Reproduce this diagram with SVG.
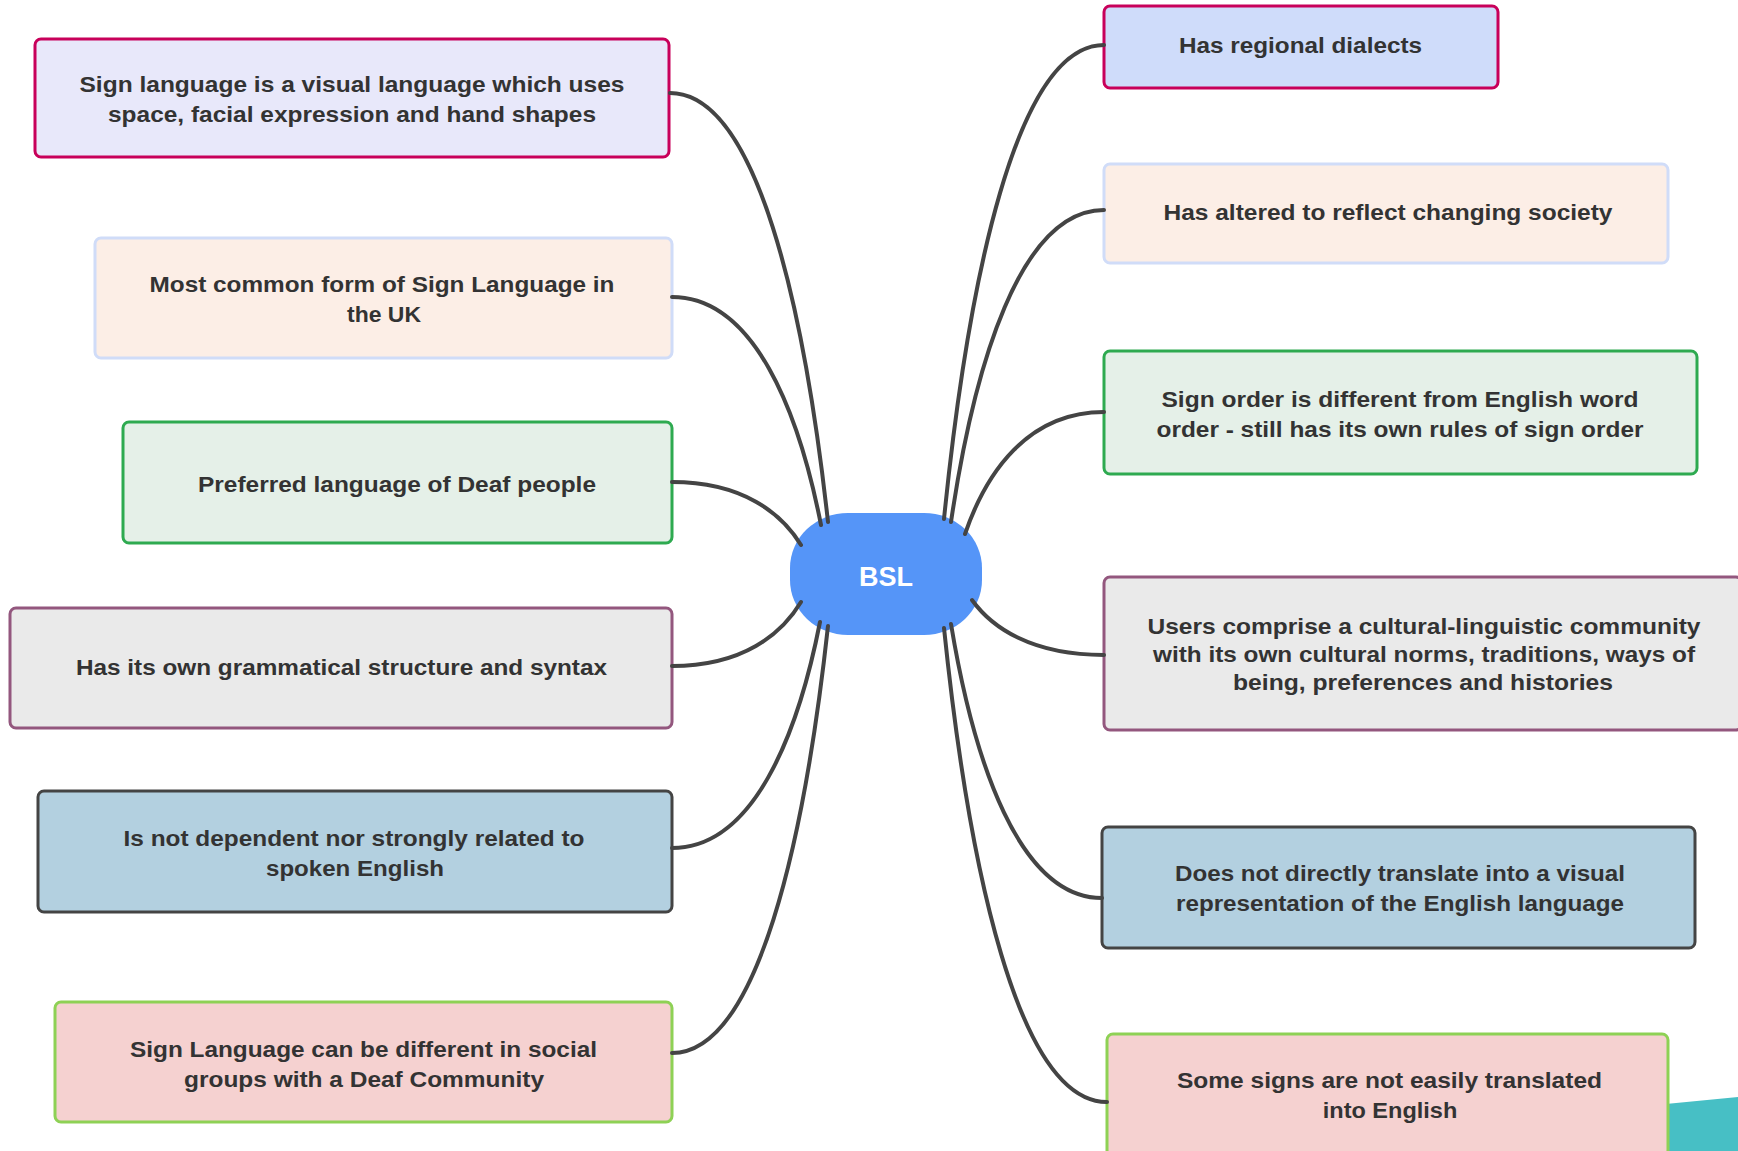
<svg xmlns="http://www.w3.org/2000/svg" width="1738" height="1151" viewBox="0 0 1738 1151">
<style>
.t{font-family:"Liberation Sans",Arial,sans-serif;font-weight:bold;font-size:22px;fill:#333333;text-anchor:middle}
.b{stroke-width:3}
.s1{fill:#E8E8FA;stroke:#C8005A}
.s1b{fill:#CFDCFA;stroke:#C8005A}
.s2{fill:#FCEEE6;stroke:#D0DCF8}
.s3{fill:#E5F0E8;stroke:#2EAA50}
.s4{fill:#EAEAEA;stroke:#93577E}
.s5{fill:#B3D0E0;stroke:#444444}
.s6{fill:#F5D1D0;stroke:#8ED155}
.c{fill:none;stroke:#444444;stroke-width:4;stroke-linecap:round}
</style>
<rect width="1738" height="1151" fill="#FFFFFF"/>
<polygon points="1500,1120 1738,1097 1738,1151 1500,1151" fill="#47BFC5"/>

<g id="node-l1"><rect class="b s1" x="35" y="39" width="634" height="118" rx="6"/>
<text class="t" x="352" y="92" textLength="545" lengthAdjust="spacingAndGlyphs">Sign language is a visual language which uses</text>
<text class="t" x="352" y="122" textLength="488" lengthAdjust="spacingAndGlyphs">space, facial expression and hand shapes</text></g>

<g id="node-l2"><rect class="b s2" x="95" y="238" width="577" height="120" rx="6"/>
<text class="t" x="382" y="292" textLength="465" lengthAdjust="spacingAndGlyphs">Most common form of Sign Language in</text>
<text class="t" x="384" y="322" textLength="74" lengthAdjust="spacingAndGlyphs">the UK</text></g>

<g id="node-l3"><rect class="b s3" x="123" y="422" width="549" height="121" rx="6"/>
<text class="t" x="397" y="492" textLength="398" lengthAdjust="spacingAndGlyphs">Preferred language of Deaf people</text></g>

<g id="node-l4"><rect class="b s4" x="10" y="608" width="662" height="120" rx="6"/>
<text class="t" x="341.5" y="675" textLength="531" lengthAdjust="spacingAndGlyphs">Has its own grammatical structure and syntax</text></g>

<g id="node-l5"><rect class="b s5" x="38" y="791" width="634" height="121" rx="6"/>
<text class="t" x="354" y="846" textLength="461" lengthAdjust="spacingAndGlyphs">Is not dependent nor strongly related to</text>
<text class="t" x="355" y="876" textLength="178" lengthAdjust="spacingAndGlyphs">spoken English</text></g>

<g id="node-l6"><rect class="b s6" x="55" y="1002" width="617" height="120" rx="6"/>
<text class="t" x="363.5" y="1057" textLength="467" lengthAdjust="spacingAndGlyphs">Sign Language can be different in social</text>
<text class="t" x="364" y="1087" textLength="360" lengthAdjust="spacingAndGlyphs">groups with a Deaf Community</text></g>

<g id="node-r1"><rect class="b s1b" x="1104" y="6" width="394" height="82" rx="6"/>
<text class="t" x="1300.5" y="53" textLength="243" lengthAdjust="spacingAndGlyphs">Has regional dialects</text></g>

<g id="node-r2"><rect class="b s2" x="1104" y="164" width="564" height="99" rx="6"/>
<text class="t" x="1388" y="220" textLength="449" lengthAdjust="spacingAndGlyphs">Has altered to reflect changing society</text></g>

<g id="node-r3"><rect class="b s3" x="1104" y="351" width="593" height="123" rx="6"/>
<text class="t" x="1400" y="407" textLength="477" lengthAdjust="spacingAndGlyphs">Sign order is different from English word</text>
<text class="t" x="1400" y="437" textLength="487" lengthAdjust="spacingAndGlyphs">order - still has its own rules of sign order</text></g>

<g id="node-r4"><rect class="b s4" x="1104" y="577" width="638" height="153" rx="6"/>
<text class="t" x="1424" y="634" textLength="553" lengthAdjust="spacingAndGlyphs">Users comprise a cultural-linguistic community</text>
<text class="t" x="1424" y="662" textLength="542" lengthAdjust="spacingAndGlyphs">with its own cultural norms, traditions, ways of</text>
<text class="t" x="1423" y="690" textLength="380" lengthAdjust="spacingAndGlyphs">being, preferences and histories</text></g>

<g id="node-r5"><rect class="b s5" x="1102" y="827" width="593" height="121" rx="6"/>
<text class="t" x="1400" y="881" textLength="450" lengthAdjust="spacingAndGlyphs">Does not directly translate into a visual</text>
<text class="t" x="1400" y="911" textLength="448" lengthAdjust="spacingAndGlyphs">representation of the English language</text></g>

<g id="node-r6"><rect class="b s6" x="1107" y="1034" width="561" height="122" rx="6"/>
<text class="t" x="1389.5" y="1088" textLength="425" lengthAdjust="spacingAndGlyphs">Some signs are not easily translated</text>
<text class="t" x="1390" y="1118" textLength="134.5" lengthAdjust="spacingAndGlyphs">into English</text></g>

<g id="node-center"><rect x="790" y="513" width="192" height="122" rx="58" ry="55" fill="#5595F8"/>
<text x="886" y="586" font-family="Liberation Sans, Arial, sans-serif" font-weight="bold" font-size="27" fill="#FFFFFF" text-anchor="middle">BSL</text></g>

<g id="connectors">
<path class="c" d="M828,522 C804.3,307.5 756.9,93 670,93"/>
<path class="c" d="M821,525 C798.6,411 754,297 672,297"/>
<path class="c" d="M801,545 C781.7,513.5 743,482 672,482"/>
<path class="c" d="M801,602 C781.7,634 743,666 672,666"/>
<path class="c" d="M820,622 C797.8,735 753.4,848 672,848"/>
<path class="c" d="M828,626 C804.6,839.5 757.8,1053 672,1053"/>
<path class="c" d="M944,519 C968,282 1016,45 1104,45"/>
<path class="c" d="M951,522 C974,366 1019.9,210 1104,210"/>
<path class="c" d="M965,534 C985.9,473 1027.5,412 1104,412"/>
<path class="c" d="M972,600 C991.8,627.5 1031.4,655 1104,655"/>
<path class="c" d="M951,624 C973.7,761 1019,898 1102,898"/>
<path class="c" d="M944,628 C968.5,865 1017.4,1102 1107,1102"/>
</g>
</svg>
